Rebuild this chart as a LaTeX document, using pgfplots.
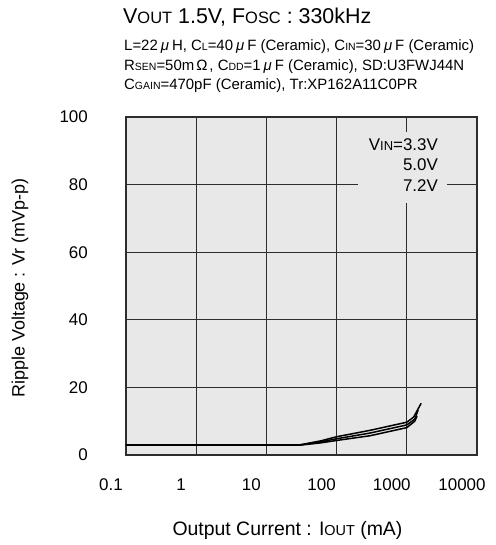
\documentclass[border=0pt]{standalone}
\usepackage{fontspec}
\setmainfont{Liberation Sans}
\usepackage{pgfplots}
\pgfplotsset{compat=1.18}

\definecolor{plotbg}{RGB}{232,232,232}
\definecolor{gridc}{RGB}{45,45,45}

\begin{document}
\begin{tikzpicture}
\path[use as bounding box] (0,0) rectangle (496bp,545bp);

% title and conditions
\node[anchor=west, inner sep=0] at (123bp,528bp)
  {\fontsize{21.5}{21.5}\selectfont V{\fontsize{16.5}{16.5}\selectfont OUT} 1.5V, F{\fontsize{16.5}{16.5}\selectfont OSC} : 330kHz};
\node[anchor=west, inner sep=0] at (124bp,498bp)
  {\fontsize{15}{15}\selectfont L=22\kern3bp\textit{μ}\kern3bp H, C{\fontsize{10.5}{10.5}\selectfont L}=40\kern3bp\textit{μ}\kern3bp F (Ceramic), C{\fontsize{10.5}{10.5}\selectfont IN}=30\kern3bp\textit{μ}\kern3bp F (Ceramic)};
\node[anchor=west, inner sep=0] at (124bp,478bp)
  {\fontsize{15}{15}\selectfont R{\fontsize{10.5}{10.5}\selectfont SEN}=50m\kern2bp Ω\kern2bp, C{\fontsize{10.5}{10.5}\selectfont DD}=1\kern3bp\textit{μ}\kern3bp F (Ceramic), SD:U3FWJ44N};
\node[anchor=west, inner sep=0] at (124bp,459bp)
  {\fontsize{15}{15}\selectfont C{\fontsize{10.5}{10.5}\selectfont GAIN}=470pF (Ceramic), Tr:XP162A11C0PR};

\begin{axis}[
  at={(126bp,90bp)}, anchor=south west,
  width=351bp, height=338bp, scale only axis,
  xmode=log, xmin=0.1, xmax=10000, ymin=0, ymax=100,
  xtick={0.1,1,10,100,1000,10000},
  xticklabels={0.1,1,10,100,1000,10000},
  ytick={0,20,40,60,80,100},
  yticklabels={0,20,40,60,80,100},
  grid=major,
  major grid style={gridc, line width=0.9bp},
  axis line style={gridc, line width=1.4bp},
  major tick length=0pt, minor tick length=0pt,
  axis background/.style={fill=plotbg},
  tick label style={font=\fontsize{17}{17}\selectfont},
  xticklabel style={anchor=center, inner sep=0pt, yshift=-30bp, xshift=-15bp},
  yticklabel style={anchor=east, inner sep=0pt, xshift=-38bp},
  xlabel={Output Current : I{\fontsize{14.5}{14.5}\selectfont OUT} (mA)},
  xlabel style={font=\fontsize{19.5}{19.5}\selectfont, at={(axis description cs:0.46,-0.222)}, anchor=center, inner sep=0pt},
  ylabel={Ripple Voltage : Vr (mVp-p)},
  ylabel style={font=\fontsize{18}{18}\selectfont, at={(axis description cs:-0.302,0.494)}, anchor=center, rotate=0, inner sep=0pt},
]
\addplot[black, line width=1.5bp] coordinates {
  (0.1,3.0) (30,3.0) (60,4.2) (100,5.4) (300,7.3) (1000,9.7) (1250,11.2) (1600,15.3)
};
\addplot[black, line width=1.5bp] coordinates {
  (0.1,3.0) (30,3.0) (60,3.9) (100,4.8) (300,6.5) (1000,8.9) (1300,10.6) (1450,13.3)
};
\addplot[black, line width=1.5bp] coordinates {
  (0.1,2.9) (30,2.9) (60,3.6) (100,4.3) (300,5.7) (1000,8.1) (1300,10.0) (1400,11.5)
};

% legend block over the grid
\fill[plotbg] (rel axis cs:0.661,0.746) rectangle (rel axis cs:0.915,0.956);
\node[anchor=east, inner sep=0, font=\fontsize{17}{17}\selectfont] at (rel axis cs:0.889,0.917)
  {V{\fontsize{13}{13}\selectfont IN}=3.3V};
\node[anchor=east, inner sep=0, font=\fontsize{17}{17}\selectfont] at (rel axis cs:0.889,0.858) {5.0V};
\node[anchor=east, inner sep=0, font=\fontsize{17}{17}\selectfont] at (rel axis cs:0.889,0.796) {7.2V};
\end{axis}
\end{tikzpicture}
\end{document}
